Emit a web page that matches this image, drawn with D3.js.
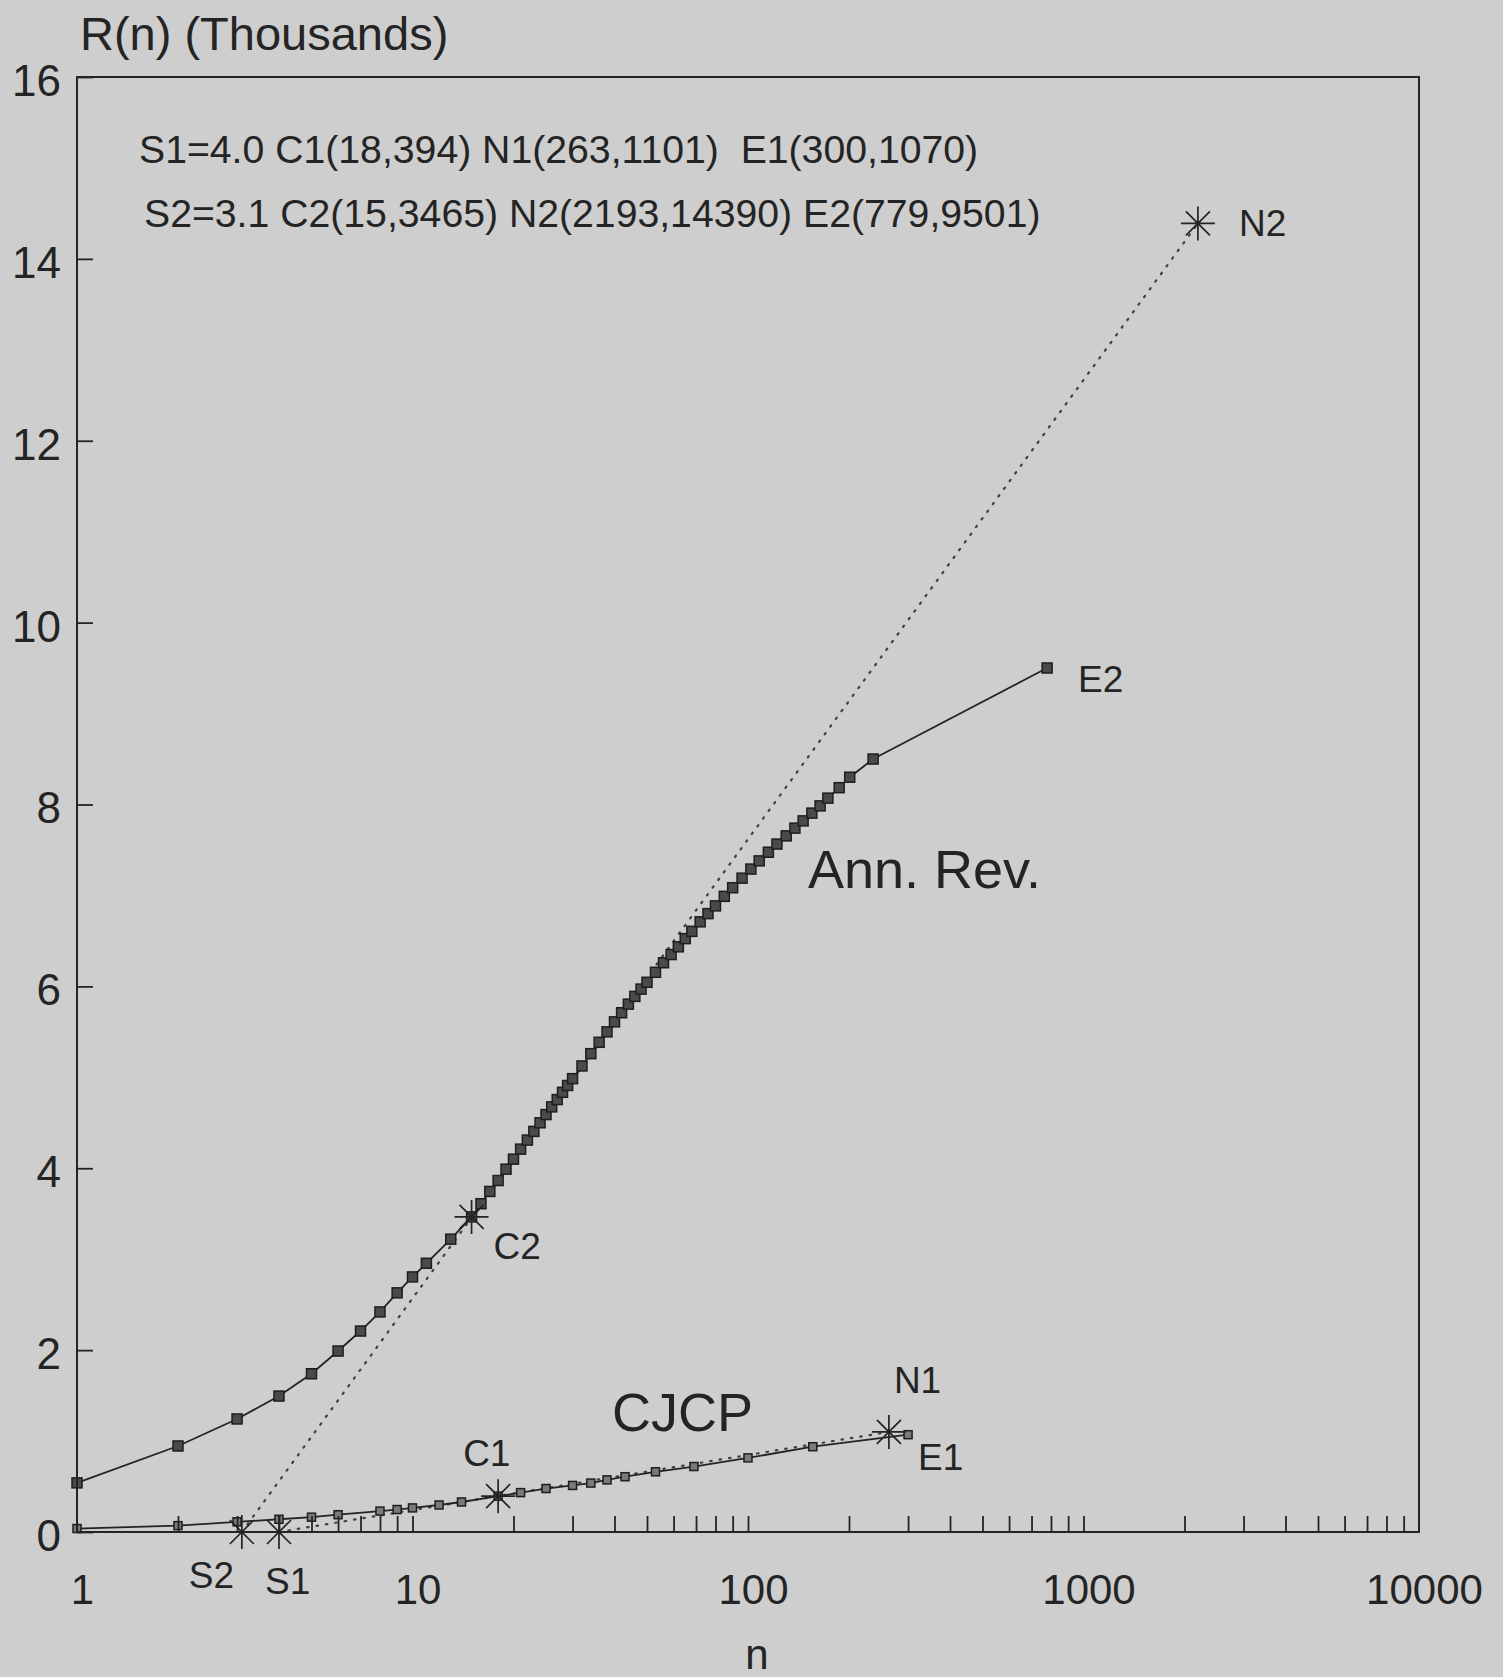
<!DOCTYPE html>
<html>
<head>
<meta charset="utf-8">
<script src="https://cdn.jsdelivr.net/npm/d3@7"></script>
<style>
  html, body { margin: 0; padding: 0; background: #cecece; }
  svg { display: block; font-family: "Liberation Sans", Arial, Helvetica, sans-serif; }
  .ann { white-space: pre; }
</style>
</head>
<body>
<svg id="chart" width="1503" height="1677"></svg>
<script>
// Cumulative articles R(n) against journal rank n (log scale)

// Annual Review series
const annRevRank = [1, 2, 3, 4, 5, 6, 7, 8, 9, 10, 11, 13, 15,
  16, 17, 18, 19, 20, 21, 22, 23, 24, 25, 26, 27, 28, 29, 30,
  32, 34, 36, 38, 40, 42, 44, 46, 48, 50,
  53, 56, 59, 62, 65, 68,
  72, 76, 80, 85, 90, 96,
  102, 108, 115, 122, 130, 138, 146, 155, 164, 173,
  187, 201, 236, 779];
const annRevR = [540, 946, 1243, 1495, 1740, 1990, 2210, 2420, 2630, 2805, 2955, 3220, 3465,
  3610, 3745, 3865, 3990, 4100, 4210, 4310, 4405, 4500, 4590, 4675, 4755, 4835, 4910, 4985,
  5125, 5260, 5385, 5500, 5610, 5710, 5805, 5890, 5970, 6045,
  6155, 6260, 6350, 6435, 6525, 6605,
  6710, 6800, 6885, 6990, 7085, 7190,
  7290, 7380, 7475, 7565, 7655, 7740, 7820, 7905, 7985, 8070,
  8185, 8300, 8500, 9501];

// CJCP series
const cjcpRank = [1, 2, 3, 4, 5, 6, 8, 9, 10, 12, 14, 18, 21, 25, 30, 34, 38, 43, 53, 69, 100, 156, 300];
const cjcpR = [38, 70, 112, 140, 163, 190, 230, 247, 265, 297, 330, 394, 433, 478, 512, 538, 573, 608, 662, 720, 815, 938, 1070];

// Bradford parameters: start S, critical C, extrapolated N, end E
const cjcpKeys = { S: [4.0, 0], C: [18, 394], N: [263, 1101], E: [300, 1070] };
const annRevKeys = { S: [3.1, 0], C: [15, 3465], N: [2193, 14390], E: [779, 9501] };

// Axis ticks
const xTickLabels = [1, 10, 100, 1000, 10000];
const yTickValues = [0, 2000, 4000, 6000, 8000, 10000, 12000, 14000, 16000];

const svg = d3.select("#chart");
const plotLeft = 77, plotRight = 1419, plotTop = 77, plotBottom = 1532;
const ink = "#242424";

const x = d3.scaleLog().domain([1, 10000]).range([plotLeft, plotRight]);
const y = d3.scaleLinear().domain([0, 16000]).range([plotBottom, plotTop]);

// minor ticks 2..9 of every decade plus the decade marks
const xMinor = [];
for (let d = 1; d <= 1000; d *= 10) for (let k = 1; k <= 9; k++) if (d * k > 1) xMinor.push(d * k);

// Extrapolated straight lines S -> N (dotted)
const line = d3.line().x(p => x(p[0])).y(p => y(p[1]));
[cjcpKeys, annRevKeys].forEach(k => {
  svg.append("path")
    .attr("d", line([k.S, k.N]))
    .attr("fill", "none")
    .attr("stroke", "#404040")
    .attr("stroke-width", 2.2)
    .attr("stroke-dasharray", "1.5 8")
    .attr("stroke-linecap", "round");
});

// Data curves
function drawSeries(ranks, values, size, fill) {
  const pts = ranks.map((n, i) => [n, values[i]]);
  svg.append("path")
    .attr("d", line(pts))
    .attr("fill", "none")
    .attr("stroke", ink)
    .attr("stroke-width", 1.8);
  svg.append("g").selectAll("rect").data(pts).join("rect")
    .attr("x", p => x(p[0]) - size / 2)
    .attr("y", p => y(p[1]) - size / 2)
    .attr("width", size).attr("height", size)
    .attr("fill", fill)
    .attr("stroke", "#1e1e1e")
    .attr("stroke-width", 1.5);
}
drawSeries(annRevRank, annRevR, 10, "#4a4a4a");
drawSeries(cjcpRank, cjcpR, 8, "#7a7a7a");

// Asterisk markers for S, C, N
function star(n, r) {
  const cx = x(n), cy = y(r), R = 17;
  let d = "";
  for (let a = 0; a < 180; a += 45) {
    const t = a * Math.PI / 180;
    d += `M${cx - R * Math.cos(t)},${cy - R * Math.sin(t)}L${cx + R * Math.cos(t)},${cy + R * Math.sin(t)}`;
  }
  svg.append("path").attr("d", d).attr("stroke", ink).attr("stroke-width", 1.7).attr("fill", "none");
}
[cjcpKeys, annRevKeys].forEach(k => { star(...k.S); star(...k.C); star(...k.N); });

// Frame
svg.append("rect")
  .attr("x", plotLeft).attr("y", plotTop)
  .attr("width", plotRight - plotLeft).attr("height", plotBottom - plotTop)
  .attr("fill", "none").attr("stroke", ink).attr("stroke-width", 2);

// X axis: inward ticks, then decade labels
const gx = svg.append("g").attr("transform", `translate(0,${plotBottom})`)
  .call(d3.axisBottom(x).tickValues(xMinor).tickSize(-16).tickSizeOuter(0).tickFormat(""));
gx.select(".domain").remove();
gx.selectAll(".tick line").attr("stroke", ink).attr("stroke-width", 1.8);

const gxl = svg.append("g").attr("transform", `translate(0,${plotBottom})`)
  .call(d3.axisBottom(x).tickValues(xTickLabels).tickSize(0).tickPadding(42).tickFormat(d3.format("d")));
gxl.select(".domain").remove();
gxl.selectAll("text").attr("font-size", 42).attr("fill", ink)
  .attr("font-family", "'Liberation Sans', Arial, sans-serif").attr("dx", 5);

// Y axis
const gy = svg.append("g").attr("transform", `translate(${plotLeft},0)`)
  .call(d3.axisLeft(y).tickValues(yTickValues).tickSize(-16).tickSizeOuter(0).tickPadding(16)
    .tickFormat(v => v / 1000));
gy.select(".domain").remove();
gy.selectAll(".tick line").attr("stroke", ink).attr("stroke-width", 1.8);
gy.selectAll("text").attr("font-size", 44).attr("fill", ink).attr("dy", "0.42em")
  .attr("font-family", "'Liberation Sans', Arial, sans-serif");

// Axis titles
svg.append("text").attr("x", 80).attr("y", 50).attr("font-size", 47).attr("fill", ink)
  .text("R(n) (Thousands)");
svg.append("text").attr("x", 757).attr("y", 1669).attr("font-size", 42).attr("fill", ink)
  .attr("text-anchor", "middle").text("n");

// Parameter summary
const fmt = k => k.toFixed(1);
svg.append("text").attr("class", "ann").attr("x", 139).attr("y", 163).attr("font-size", 39.2).attr("fill", ink)
  .text(`S1=${fmt(cjcpKeys.S[0])} C1(${cjcpKeys.C[0]},${cjcpKeys.C[1]}) N1(${cjcpKeys.N[0]},${cjcpKeys.N[1]})  E1(${cjcpKeys.E[0]},${cjcpKeys.E[1]})`);
svg.append("text").attr("class", "ann").attr("x", 144).attr("y", 227).attr("font-size", 39.2).attr("fill", ink)
  .text(`S2=${fmt(annRevKeys.S[0])} C2(${annRevKeys.C[0]},${annRevKeys.C[1]}) N2(${annRevKeys.N[0]},${annRevKeys.N[1]}) E2(${annRevKeys.E[0]},${annRevKeys.E[1]})`);

// Point labels, placed beside their markers
const pointLabels = [
  ["S1", cjcpKeys.S, -14, 62], ["C1", cjcpKeys.C, -35, -30], ["N1", cjcpKeys.N, 5, -39], ["E1", cjcpKeys.E, 10, 35],
  ["S2", annRevKeys.S, -53, 56], ["C2", annRevKeys.C, 22, 42], ["N2", annRevKeys.N, 41, 13], ["E2", annRevKeys.E, 31, 24]
];
pointLabels.forEach(([t, p, dx, dy]) => {
  svg.append("text").attr("x", x(p[0]) + dx).attr("y", y(p[1]) + dy)
    .attr("font-size", 37).attr("fill", ink).text(t);
});

// Series names
svg.append("text").attr("x", 808).attr("y", 888).attr("font-size", 54).attr("fill", ink).text("Ann. Rev.");
svg.append("text").attr("x", 612).attr("y", 1431).attr("font-size", 54).attr("fill", ink).text("CJCP");
</script>
</body>
</html>
